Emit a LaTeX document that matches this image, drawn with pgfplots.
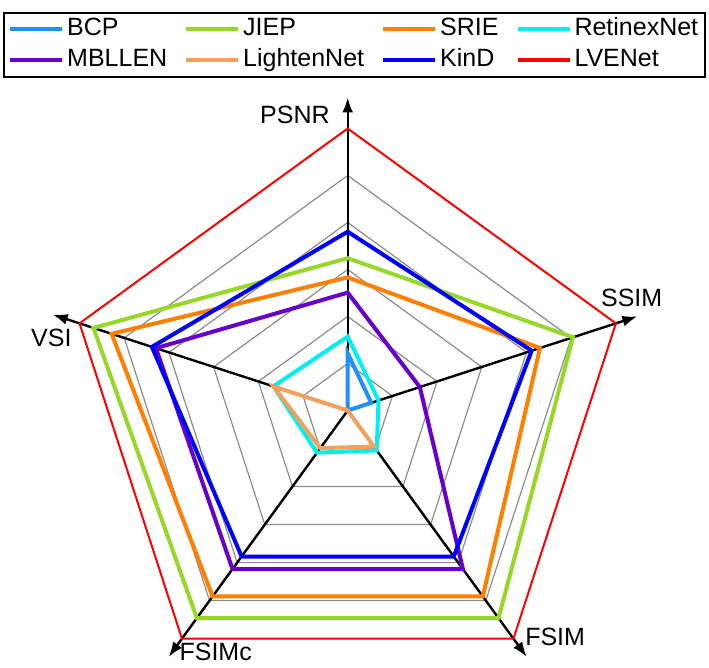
\documentclass[border=0pt]{standalone}
\usepackage{pgfplots}
\pgfplotsset{compat=1.18}
\usepgfplotslibrary{polar}
\usetikzlibrary{arrows.meta}
\usepackage{fontspec}
\setmainfont{Liberation Sans}
\definecolor{cBCP}{RGB}{30,144,255}
\definecolor{cJIEP}{RGB}{150,215,40}
\definecolor{cSRIE}{RGB}{255,128,0}
\definecolor{cRet}{RGB}{0,240,240}
\definecolor{cMBL}{RGB}{102,0,204}
\definecolor{cLig}{RGB}{245,160,90}
\definecolor{cKinD}{RGB}{0,0,255}
\definecolor{cLVE}{RGB}{255,0,0}
\definecolor{cgrid}{RGB}{140,140,140}
\newcommand{\lblfont}{\fontsize{12.5bp}{14bp}\selectfont}
\begin{document}
\begin{tikzpicture}
\begin{polaraxis}[
  hide axis,
  scale only axis,
  width=338.4bp, height=338.4bp,
  xmin=0, xmax=360, ymin=0, ymax=1.2,
  clip=false,
  legend columns=4,
  legend cell align=left,
  legend style={at={(axis cs:90,1.413)}, anchor=north, xshift=3.5bp,
    draw=black, line width=0.8bp, inner xsep=2bp, inner ysep=0.5bp,
    font=\lblfont,
    nodes={text height=9bp, text depth=2.7bp, inner ysep=1.9bp, inner xsep=1.5bp},
    /tikz/every even column/.append style={column sep=7bp}},
  legend image code/.code={\draw[#1, line width=2bp] (0bp,0bp) -- (26bp,0bp);},
]
\coordinate (C) at (axis cs:0,0);
% grid pentagons
\addplot[cgrid, line width=0.6bp, forget plot] coordinates {(90,0.1667)(18,0.1667)(306,0.1667)(234,0.1667)(162,0.1667)} -- cycle;
\addplot[cgrid, line width=0.6bp, forget plot] coordinates {(90,0.3333)(18,0.3333)(306,0.3333)(234,0.3333)(162,0.3333)} -- cycle;
\addplot[cgrid, line width=0.6bp, forget plot] coordinates {(90,0.5)(18,0.5)(306,0.5)(234,0.5)(162,0.5)} -- cycle;
\addplot[cgrid, line width=0.6bp, forget plot] coordinates {(90,0.6667)(18,0.6667)(306,0.6667)(234,0.6667)(162,0.6667)} -- cycle;
\addplot[cgrid, line width=0.6bp, forget plot] coordinates {(90,0.8333)(18,0.8333)(306,0.8333)(234,0.8333)(162,0.8333)} -- cycle;
% axes
\addplot[black, line width=1.2bp, -{Latex[length=7.5bp,width=5.5bp]}, forget plot] coordinates {(90,0) (90,1.11)};
\addplot[black, line width=1.2bp, -{Latex[length=7.5bp,width=5.5bp]}, forget plot] coordinates {(18,0) (18,1.08)};
\addplot[black, line width=1.2bp, -{Latex[length=7.5bp,width=5.5bp]}, forget plot] coordinates {(306,0) (306,1.08)};
\addplot[black, line width=1.2bp, -{Latex[length=7.5bp,width=5.5bp]}, forget plot] coordinates {(234,0) (234,1.08)};
\addplot[black, line width=1.2bp, -{Latex[length=7.5bp,width=5.5bp]}, forget plot] coordinates {(162,0) (162,1.10)};
% data: PSNR, SSIM, FSIM, FSIMc, VSI
\addplot[cBCP, line width=2bp, line join=miter] coordinates {(90,0.203)(18,0.088)(306,0)(234,0)(162,0)} -- cycle;
\addlegendentry{BCP}
\addplot[cJIEP, line width=2bp, line join=miter] coordinates {(90,0.540)(18,0.840)(306,0.910)(234,0.910)(162,0.948)} -- cycle;
\addlegendentry{JIEP}
\addplot[cSRIE, line width=2bp, line join=miter] coordinates {(90,0.472)(18,0.717)(306,0.815)(234,0.815)(162,0.880)} -- cycle;
\addlegendentry{SRIE}
\addplot[cRet, line width=2bp, line join=miter] coordinates {(90,0.262)(18,0.115)(306,0.175)(234,0.185)(162,0.277)} -- cycle;
\addlegendentry{RetinexNet}
\addplot[cMBL, line width=2bp, line join=miter] coordinates {(90,0.418)(18,0.269)(306,0.695)(234,0.695)(162,0.715)} -- cycle;
\addlegendentry{MBLLEN}
\addplot[cLig, line width=2bp, line join=miter] coordinates {(90,0)(18,0)(306,0.158)(234,0.165)(162,0.277)} -- cycle;
\addlegendentry{LightenNet}
\addplot[cKinD, line width=2bp, line join=miter] coordinates {(90,0.634)(18,0.686)(306,0.640)(234,0.640)(162,0.730)} -- cycle;
\addlegendentry{KinD}
\addplot[cLVE, line width=1bp, line join=miter] coordinates {(90,1)(18,1)(306,1)(234,1)(162,1)} -- cycle;
\addlegendentry{LVENet}
\end{polaraxis}
\node[font=\lblfont] at ([shift={(-26.4bp,147.7bp)}]C) {PSNR};
\node[font=\lblfont] at ([shift={(142bp,56.2bp)}]C) {SSIM};
\node[font=\lblfont] at ([shift={(-148.2bp,36.3bp)}]C) {VSI};
\node[font=\lblfont] at ([shift={(103.7bp,-113.1bp)}]C) {FSIM};
\node[font=\lblfont] at ([shift={(-66bp,-120.8bp)}]C) {FSIMc};
\pgfresetboundingbox
\path ([shift={(-173.85bp,-128.75bp)}]C) rectangle ++(354.5bp,334bp);
\end{tikzpicture}
\end{document}
